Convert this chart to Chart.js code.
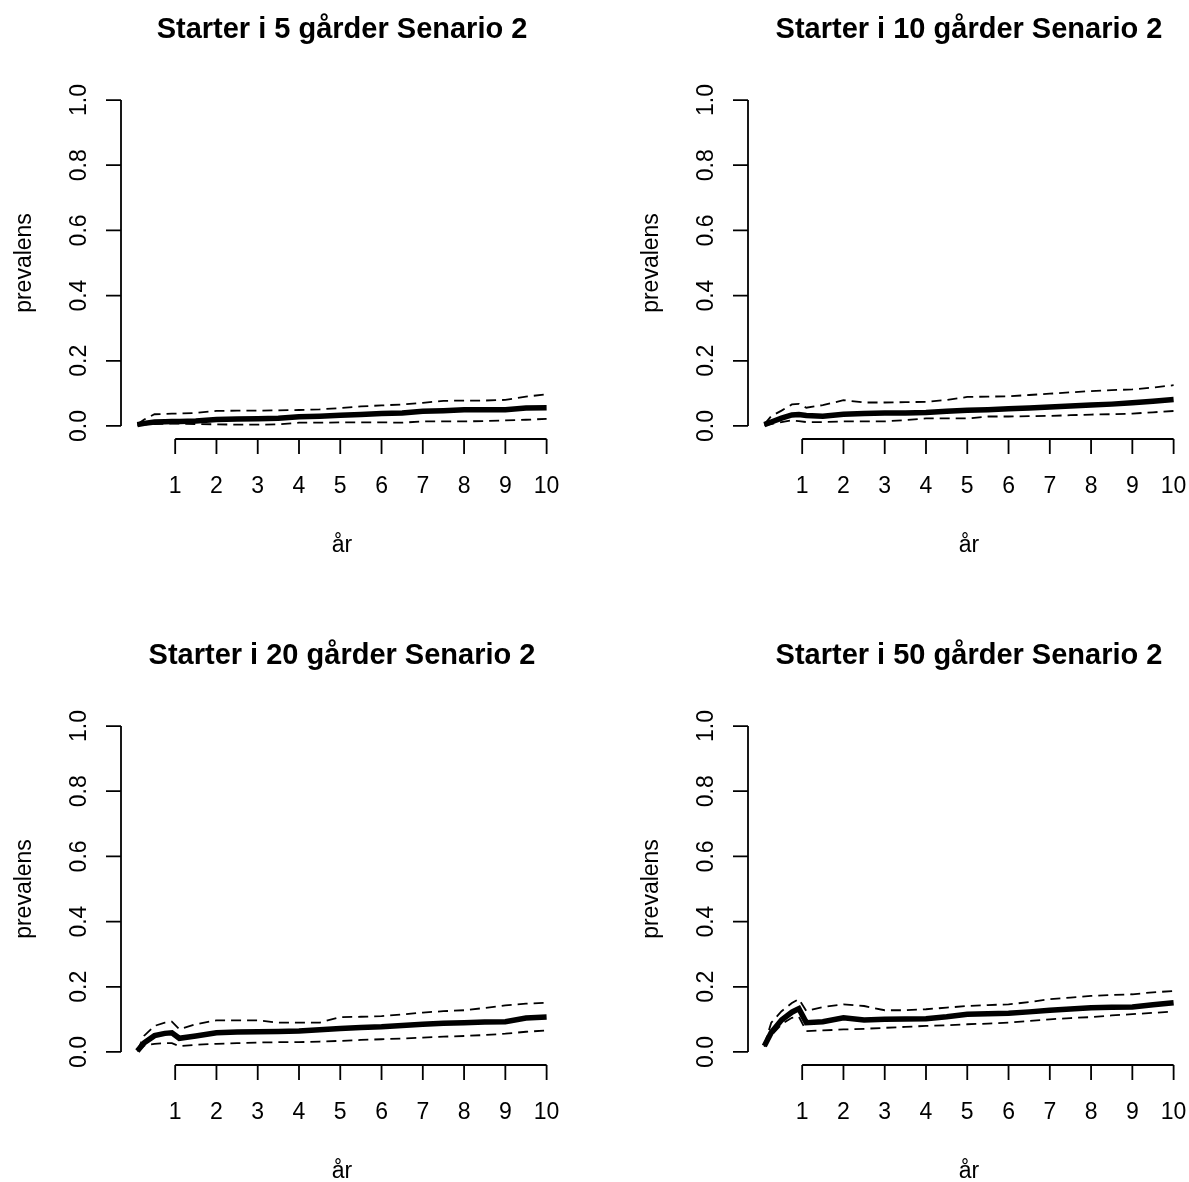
<!DOCTYPE html>
<html>
<head>
<meta charset="utf-8">
<script src="https://cdn.jsdelivr.net/npm/chart.js@4.4.1/dist/chart.umd.min.js"></script>
<style>
  html, body { margin: 0; padding: 0; background: #fff; overflow: hidden; }
  #wrap { position: relative; width: 1189px; height: 1182px; overflow: hidden; background: #fff; }
  .panel { position: absolute; width: 627px; height: 626px; }
</style>
</head>
<body>
<div id="wrap">
  <div class="panel" style="left:0px;top:0px"><canvas id="c5" width="627" height="626"></canvas></div>
  <div class="panel" style="left:627px;top:0px"><canvas id="c10" width="627" height="626"></canvas></div>
  <div class="panel" style="left:0px;top:626px"><canvas id="c20" width="627" height="626"></canvas></div>
  <div class="panel" style="left:627px;top:626px"><canvas id="c50" width="627" height="626"></canvas></div>
</div>
<script>
// time in years (shared by all panels)
var aar = [0.083, 0.25, 0.5, 0.75, 0.92, 1.1, 1.5, 2, 2.5, 3, 3.5, 4, 4.5, 5, 5.5, 6, 6.5, 7, 7.5, 8, 8.5, 9, 9.5, 10];

var xTicks = [1, 2, 3, 4, 5, 6, 7, 8, 9, 10];
var yTicks = [0, 0.2, 0.4, 0.6, 0.8, 1.0];
var yTickLabels = ["0.0", "0.2", "0.4", "0.6", "0.8", "1.0"];

var titles = [
    "Starter i 5 gårder Senario 2",
    "Starter i 10 gårder Senario 2",
    "Starter i 20 gårder Senario 2",
    "Starter i 50 gårder Senario 2"
];

// 5 gaarder
var mid5 = [0.004, 0.008, 0.012, 0.013, 0.014, 0.014, 0.015, 0.020, 0.021, 0.022, 0.024, 0.028, 0.030, 0.033, 0.035, 0.038, 0.040, 0.045, 0.047, 0.050, 0.050, 0.050, 0.055, 0.056];
var hoy5 = [0.005, 0.020, 0.036, 0.037, 0.038, 0.038, 0.040, 0.046, 0.047, 0.047, 0.048, 0.049, 0.051, 0.055, 0.060, 0.063, 0.066, 0.071, 0.077, 0.078, 0.078, 0.080, 0.090, 0.097];
var lav5 = [0.002, 0.004, 0.006, 0.007, 0.007, 0.007, 0.006, 0.005, 0.004, 0.004, 0.005, 0.010, 0.010, 0.011, 0.011, 0.011, 0.010, 0.014, 0.014, 0.014, 0.015, 0.017, 0.019, 0.022];

// 10 gaarder
var mid10 = [0.004, 0.012, 0.024, 0.034, 0.035, 0.032, 0.030, 0.036, 0.038, 0.040, 0.040, 0.041, 0.045, 0.048, 0.050, 0.053, 0.055, 0.058, 0.061, 0.064, 0.067, 0.071, 0.076, 0.081];
var hoy10 = [0.005, 0.030, 0.047, 0.066, 0.068, 0.056, 0.064, 0.079, 0.072, 0.072, 0.073, 0.074, 0.080, 0.089, 0.090, 0.091, 0.095, 0.099, 0.103, 0.107, 0.110, 0.112, 0.118, 0.125];
var lav10 = [0.002, 0.006, 0.012, 0.017, 0.015, 0.012, 0.012, 0.014, 0.014, 0.014, 0.018, 0.023, 0.023, 0.023, 0.029, 0.029, 0.030, 0.031, 0.033, 0.035, 0.036, 0.038, 0.042, 0.046];

// 20 gaarder
var mid20 = [0.003, 0.028, 0.050, 0.057, 0.059, 0.042, 0.049, 0.059, 0.061, 0.062, 0.063, 0.064, 0.068, 0.072, 0.075, 0.077, 0.081, 0.085, 0.088, 0.090, 0.092, 0.093, 0.104, 0.107];
var hoy20 = [0.004, 0.050, 0.080, 0.090, 0.093, 0.070, 0.085, 0.097, 0.097, 0.097, 0.090, 0.090, 0.090, 0.107, 0.108, 0.110, 0.115, 0.121, 0.125, 0.128, 0.135, 0.143, 0.148, 0.151];
var lav20 = [0.002, 0.020, 0.025, 0.027, 0.027, 0.018, 0.022, 0.025, 0.027, 0.029, 0.030, 0.030, 0.032, 0.034, 0.037, 0.039, 0.041, 0.044, 0.047, 0.049, 0.052, 0.056, 0.062, 0.066];

// 50 gaarder
var mid50 = [0.018, 0.060, 0.098, 0.122, 0.133, 0.090, 0.093, 0.105, 0.098, 0.100, 0.101, 0.102, 0.108, 0.116, 0.117, 0.119, 0.123, 0.128, 0.132, 0.136, 0.137, 0.138, 0.145, 0.151];
var hoy50 = [0.020, 0.090, 0.125, 0.150, 0.162, 0.126, 0.138, 0.146, 0.141, 0.128, 0.128, 0.131, 0.136, 0.141, 0.144, 0.146, 0.153, 0.162, 0.167, 0.172, 0.175, 0.177, 0.183, 0.187];
var lav50 = [0.016, 0.050, 0.085, 0.105, 0.108, 0.064, 0.066, 0.069, 0.071, 0.074, 0.077, 0.080, 0.082, 0.085, 0.087, 0.090, 0.095, 0.100, 0.104, 0.107, 0.112, 0.116, 0.120, 0.124];

var FONT = "'Liberation Sans', Arial, sans-serif";

function toPoints(ys) {
    return ys.map(function (v, i) { return { x: aar[i], y: v }; });
}

// R-style axes, title and labels drawn through the chart's scales
var rAxes = {
    id: "rAxes",
    afterDraw: function (chart, args, opts) {
        var ctx = chart.ctx;
        var xs = chart.scales.x;
        var ys = chart.scales.y;
        var area = chart.chartArea;
        ctx.save();
        ctx.strokeStyle = "#000";
        ctx.fillStyle = "#000";
        ctx.lineWidth = 1.8;

        // x axis
        var yb = area.bottom;
        ctx.beginPath();
        ctx.moveTo(xs.getPixelForValue(xTicks[0]), yb);
        ctx.lineTo(xs.getPixelForValue(xTicks[xTicks.length - 1]), yb);
        xTicks.forEach(function (t) {
            var px = xs.getPixelForValue(t);
            ctx.moveTo(px, yb);
            ctx.lineTo(px, yb + 15);
        });
        // y axis
        var xl = area.left;
        ctx.moveTo(xl, ys.getPixelForValue(yTicks[0]));
        ctx.lineTo(xl, ys.getPixelForValue(yTicks[yTicks.length - 1]));
        yTicks.forEach(function (t) {
            var py = ys.getPixelForValue(t);
            ctx.moveTo(xl, py);
            ctx.lineTo(xl - 15, py);
        });
        ctx.stroke();

        ctx.font = "23px " + FONT;
        ctx.textAlign = "center";
        ctx.textBaseline = "alphabetic";
        xTicks.forEach(function (t) {
            ctx.fillText(String(t), xs.getPixelForValue(t), yb + 54);
        });
        yTicks.forEach(function (t, i) {
            ctx.save();
            ctx.translate(xl - 35, ys.getPixelForValue(t));
            ctx.rotate(-Math.PI / 2);
            ctx.fillText(yTickLabels[i], 0, 0);
            ctx.restore();
        });

        // axis titles
        var cx = (area.left + area.right) / 2;
        var cy = (area.top + area.bottom) / 2;
        ctx.fillText("år", cx, yb + 113);
        ctx.save();
        ctx.translate(31, cy);
        ctx.rotate(-Math.PI / 2);
        ctx.fillText("prevalens", 0, 0);
        ctx.restore();

        // main title
        ctx.font = "bold 29px " + FONT;
        ctx.fillText(opts.text, cx, 38);
        ctx.restore();
    }
};

function drawPanel(id, title, mid, hoy, lav) {
    var ctx = document.getElementById(id).getContext("2d");
    return new Chart(ctx, {
        type: "line",
        data: {
            datasets: [{
                label: "median",
                data: toPoints(mid),
                borderColor: "#000",
                borderWidth: 5.5,
                pointRadius: 0,
                tension: 0
            }, {
                label: "øvre",
                data: toPoints(hoy),
                borderColor: "#000",
                borderWidth: 1.8,
                borderDash: [10, 6],
                pointRadius: 0,
                tension: 0
            }, {
                label: "nedre",
                data: toPoints(lav),
                borderColor: "#000",
                borderWidth: 1.8,
                borderDash: [10, 6],
                pointRadius: 0,
                tension: 0
            }]
        },
        options: {
            responsive: false,
            animation: false,
            layout: { padding: { left: 121, top: 87, right: 64, bottom: 187 } },
            plugins: {
                legend: { display: false },
                tooltip: { enabled: false },
                rAxes: { text: title }
            },
            scales: {
                x: { type: "linear", min: -0.313, max: 10.397, display: false },
                y: { type: "linear", min: -0.04, max: 1.04, display: false }
            }
        },
        plugins: [rAxes]
    });
}

drawPanel("c5", titles[0], mid5, hoy5, lav5);
drawPanel("c10", titles[1], mid10, hoy10, lav10);
drawPanel("c20", titles[2], mid20, hoy20, lav20);
drawPanel("c50", titles[3], mid50, hoy50, lav50);
</script>
</body>
</html>
